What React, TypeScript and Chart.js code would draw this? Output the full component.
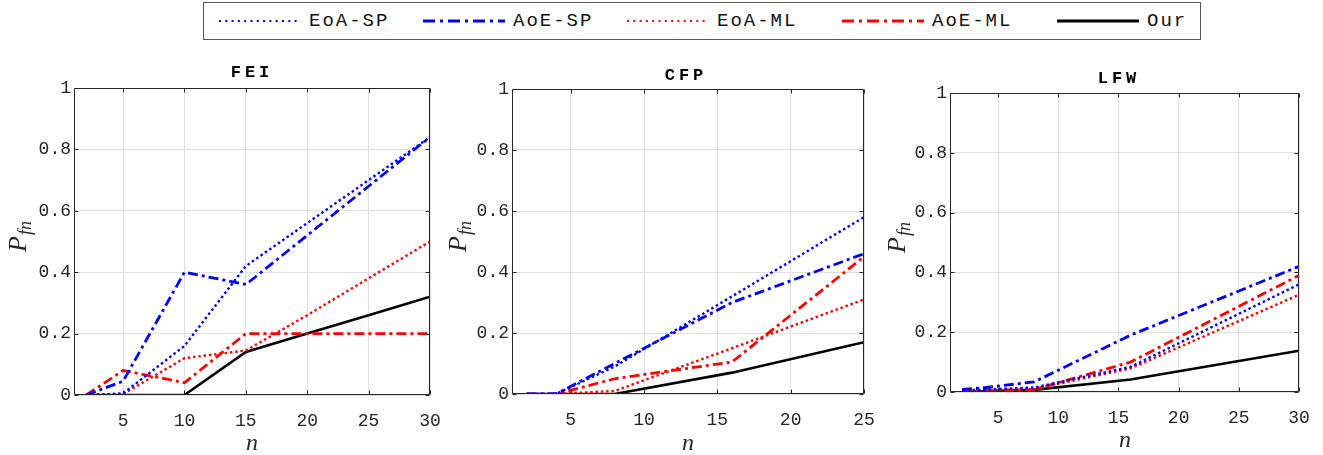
import React, { useEffect, useRef } from 'react';
import { Chart, registerables } from 'chart.js';

Chart.register(...registerables);

// ---------- data ----------
const SERIES_NAMES = ['EoA-SP', 'AoE-SP', 'EoA-ML', 'AoE-ML', 'Our'];

const Y_TICKS = [0, 0.2, 0.4, 0.6, 0.8, 1];
const Y_TICK_LABELS = ['0', '0.2', '0.4', '0.6', '0.8', '1'];
const X_TICKS_30 = [5, 10, 15, 20, 25, 30];
const X_TICKS_25 = [5, 10, 15, 20, 25];

const FEI_N = [2, 5, 10, 15, 20, 25, 30];
const FEI_EOA_SP = [0, 0.005, 0.16, 0.42, 0.56, 0.70, 0.84];
const FEI_AOE_SP = [0, 0.045, 0.40, 0.36, 0.52, 0.68, 0.84];
const FEI_EOA_ML = [0, 0.003, 0.12, 0.145, 0.26, 0.38, 0.50];
const FEI_AOE_ML = [0, 0.08, 0.04, 0.20, 0.20, 0.20, 0.20];
const FEI_OUR = [0, 0, 0, 0.14, 0.20, 0.26, 0.32];

const CFP_N = [2, 4, 8, 16, 25];
const CFP_EOA_SP = [0, 0, 0.09, 0.32, 0.58];
const CFP_AOE_SP = [0, 0, 0.10, 0.30, 0.46];
const CFP_EOA_ML = [0, 0, 0.01, 0.15, 0.31];
const CFP_AOE_ML = [0, 0, 0.05, 0.105, 0.45];
const CFP_OUR = [0, 0, 0, 0.07, 0.17];

const LFW_N = [2, 4, 8, 16, 30];
const LFW_EOA_SP = [0.006, 0.008, 0.015, 0.084, 0.36];
const LFW_AOE_SP = [0.009, 0.015, 0.034, 0.19, 0.42];
const LFW_EOA_ML = [0.004, 0.005, 0.01, 0.079, 0.325];
const LFW_AOE_ML = [0.005, 0.006, 0.008, 0.10, 0.39];
const LFW_OUR = [0, 0.002, 0.007, 0.042, 0.138];

// ---------- styles ----------
const MONO = "'Liberation Mono', 'DejaVu Sans Mono', monospace";
const SERIF = "'Liberation Serif', 'DejaVu Serif', serif";
const AXIS_COLOR = '#262626';

const SERIES_STYLE = [
  { color: '#0000ff', dash: [2.5, 2.8], width: 2.4 },
  { color: '#0000ff', dash: [10, 4, 3, 4], width: 2.8 },
  { color: '#ff0000', dash: [2.5, 2.8], width: 2.4 },
  { color: '#ff0000', dash: [10, 4, 3, 4], width: 2.8 },
  { color: '#000000', dash: [], width: 2.6 },
];

const LEGEND_ITEMS = [
  { left: 218, dash: '2 4.3', w: 2 },
  { left: 422, dash: '12 5 3 5', w: 3 },
  { left: 626, dash: '2 4.3', w: 2 },
  { left: 841, dash: '12 5 3 5', w: 3 },
  { left: 1056, dash: '', w: 3 },
];

type Panel = {
  title: string;
  n: number[];
  series: number[][];
  xMax: number;
  xTicks: number[];
  left: number;
  width: number;
  padTop: number;
  padRight: number;
  yAxisW: number;
  xAxisH: number;
  titleX: number;
  titleBase: number;
  nX: number;
  nBase: number;
  pBase: number;
  pCenter: number;
};

const CANVAS_TOP = 50;
const CANVAS_H = 405;

const PANELS: Panel[] = [
  {
    title: 'FEI', n: FEI_N, series: [FEI_EOA_SP, FEI_AOE_SP, FEI_EOA_ML, FEI_AOE_ML, FEI_OUR],
    xMax: 30, xTicks: X_TICKS_30, left: 0, width: 440, padTop: 38, padRight: 10, yAxisW: 74, xAxisH: 60,
    titleX: 250, titleBase: 27, nX: 252, nBase: 400, pBase: 26, pCenter: 187,
  },
  {
    title: 'CFP', n: CFP_N, series: [CFP_EOA_SP, CFP_AOE_SP, CFP_EOA_ML, CFP_AOE_ML, CFP_OUR],
    xMax: 25, xTicks: X_TICKS_25, left: 440, width: 440, padTop: 39, padRight: 16, yAxisW: 72, xAxisH: 61,
    titleX: 244, titleBase: 30, nX: 248, nBase: 400, pBase: 26, pCenter: 187,
  },
  {
    title: 'LFW', n: LFW_N, series: [LFW_EOA_SP, LFW_AOE_SP, LFW_EOA_ML, LFW_AOE_ML, LFW_OUR],
    xMax: 30, xTicks: X_TICKS_30, left: 880, width: 443, padTop: 43, padRight: 24, yAxisW: 70, xAxisH: 63,
    titleX: 237, titleBase: 33, nX: 245, nBase: 397, pBase: 25, pCenter: 188,
  },
];

function makeFramePlugin(p: Panel) {
  return {
    id: 'frame_' + p.title,
    afterDraw(chart: any) {
      const { ctx, chartArea: a, scales } = chart;
      const L = Math.round(a.left) + 0.5;
      const R = Math.round(a.right) - 0.5;
      const T = Math.round(a.top) + 0.5;
      const B = Math.round(a.bottom) - 0.5;
      ctx.save();
      ctx.strokeStyle = AXIS_COLOR;
      ctx.lineWidth = 1;
      ctx.setLineDash([]);
      ctx.beginPath();
      ctx.rect(L, T, R - L, B - T);
      const tl = 4;
      p.xTicks.forEach((v) => {
        const x = Math.round(scales.x.getPixelForValue(v)) + 0.5;
        ctx.moveTo(x, B); ctx.lineTo(x, B - tl);
        ctx.moveTo(x, T); ctx.lineTo(x, T + tl);
      });
      Y_TICKS.forEach((v) => {
        const y = Math.round(scales.y.getPixelForValue(v)) + 0.5;
        ctx.moveTo(L, y); ctx.lineTo(L + tl, y);
        ctx.moveTo(R, y); ctx.lineTo(R - tl, y);
      });
      ctx.stroke();

      // title
      ctx.fillStyle = '#000';
      ctx.font = `bold 17px ${MONO}`;
      (ctx as any).letterSpacing = '4px';
      ctx.textAlign = 'center';
      ctx.textBaseline = 'alphabetic';
      ctx.fillText(p.title, p.titleX + 2, p.titleBase);
      (ctx as any).letterSpacing = '0px';

      // x label
      ctx.fillStyle = AXIS_COLOR;
      ctx.font = `italic 24px ${SERIF}`;
      ctx.fillText('n', p.nX, p.nBase);

      // y label P_fn
      ctx.translate(p.pBase, p.pCenter);
      ctx.rotate(-Math.PI / 2);
      ctx.textAlign = 'left';
      ctx.font = `italic 26px ${SERIF}`;
      const wP = ctx.measureText('P').width;
      ctx.font = `italic 18px ${SERIF}`;
      const wS = ctx.measureText('fn').width;
      const start = -(wP + wS) / 2;
      ctx.font = `italic 26px ${SERIF}`;
      ctx.fillText('P', start, 0);
      ctx.font = `italic 18px ${SERIF}`;
      ctx.fillText('fn', start + wP + 1, 5);
      ctx.restore();
    },
  };
}

function PanelChart({ p }: { p: Panel }) {
  const ref = useRef<HTMLCanvasElement | null>(null);
  useEffect(() => {
    if (!ref.current) return;
    const datasets = p.series.map((vals, i) => ({
      label: SERIES_NAMES[i],
      data: p.n.map((x, j) => ({ x, y: vals[j] })),
      borderColor: SERIES_STYLE[i].color,
      backgroundColor: SERIES_STYLE[i].color,
      borderWidth: SERIES_STYLE[i].width,
      borderDash: SERIES_STYLE[i].dash,
      borderCapStyle: 'butt' as const,
      pointRadius: 0,
      tension: 0,
      fill: false,
    }));
    const chart = new Chart(ref.current, {
      type: 'line',
      data: { datasets },
      options: {
        animation: false,
        responsive: false,
        events: [],
        layout: { padding: { top: p.padTop, right: p.padRight, left: 0, bottom: 0 } },
        plugins: { legend: { display: false }, tooltip: { enabled: false }, title: { display: false } },
        scales: {
          x: {
            type: 'linear',
            min: 1,
            max: p.xMax,
            afterBuildTicks: (s: any) => { s.ticks = p.xTicks.map((v) => ({ value: v })); },
            afterFit: (s: any) => {
              s.height = p.xAxisH;
              s.paddingLeft = 0; s.paddingRight = 0; s.paddingTop = 0; s.paddingBottom = 0;
            },
            grid: { color: '#dfdfdf', lineWidth: 1, drawTicks: false },
            border: { display: false },
            ticks: {
              autoSkip: false,
              maxRotation: 0,
              padding: 15,
              color: AXIS_COLOR,
              font: { family: MONO, size: 18 },
              callback: (v: any) => String(v),
            },
          },
          y: {
            type: 'linear',
            min: 0,
            max: 1,
            afterBuildTicks: (s: any) => { s.ticks = Y_TICKS.map((v) => ({ value: v })); },
            afterFit: (s: any) => {
              s.width = p.yAxisW;
              s.paddingLeft = 0; s.paddingRight = 0; s.paddingTop = 0; s.paddingBottom = 0;
            },
            grid: { color: '#dfdfdf', lineWidth: 1, drawTicks: false },
            border: { display: false },
            ticks: {
              autoSkip: false,
              padding: 3,
              color: AXIS_COLOR,
              font: { family: MONO, size: 18 },
              callback: (_v: any, i: number) => Y_TICK_LABELS[i],
            },
          },
        },
      },
      plugins: [makeFramePlugin(p)],
    });
    return () => chart.destroy();
  }, [p]);
  return (
    <canvas
      ref={ref}
      width={p.width}
      height={CANVAS_H}
      style={{ position: 'absolute', left: p.left, top: CANVAS_TOP, width: p.width, height: CANVAS_H }}
    />
  );
}

function Legend() {
  return (
    <div
      style={{
        position: 'absolute', left: 203, top: 2, width: 998, height: 38,
        border: '1px solid #555', boxSizing: 'border-box', background: '#fff',
      }}
    >
      {LEGEND_ITEMS.map((it, i) => (
        <div key={i} style={{ position: 'absolute', left: it.left - 203, top: 0, height: 36, display: 'flex', alignItems: 'center' }}>
          <svg width={82} height={10} style={{ display: 'block' }}>
            <line
              x1={0} y1={5} x2={82} y2={5}
              stroke={SERIES_STYLE[i].color}
              strokeWidth={it.w}
              strokeDasharray={it.dash || undefined}
            />
          </svg>
          <span
            style={{
              marginLeft: 8, fontFamily: MONO, fontSize: 19, letterSpacing: '2px',
              color: '#111', lineHeight: '20px', whiteSpace: 'nowrap',
            }}
          >
            {SERIES_NAMES[i]}
          </span>
        </div>
      ))}
    </div>
  );
}

export default function App() {
  return (
    <div style={{ position: 'absolute', left: 0, top: 0, width: 1323, height: 455, background: '#fff', overflow: 'hidden' }}>
      <Legend />
      {PANELS.map((p) => (
        <PanelChart key={p.title} p={p} />
      ))}
    </div>
  );
}
